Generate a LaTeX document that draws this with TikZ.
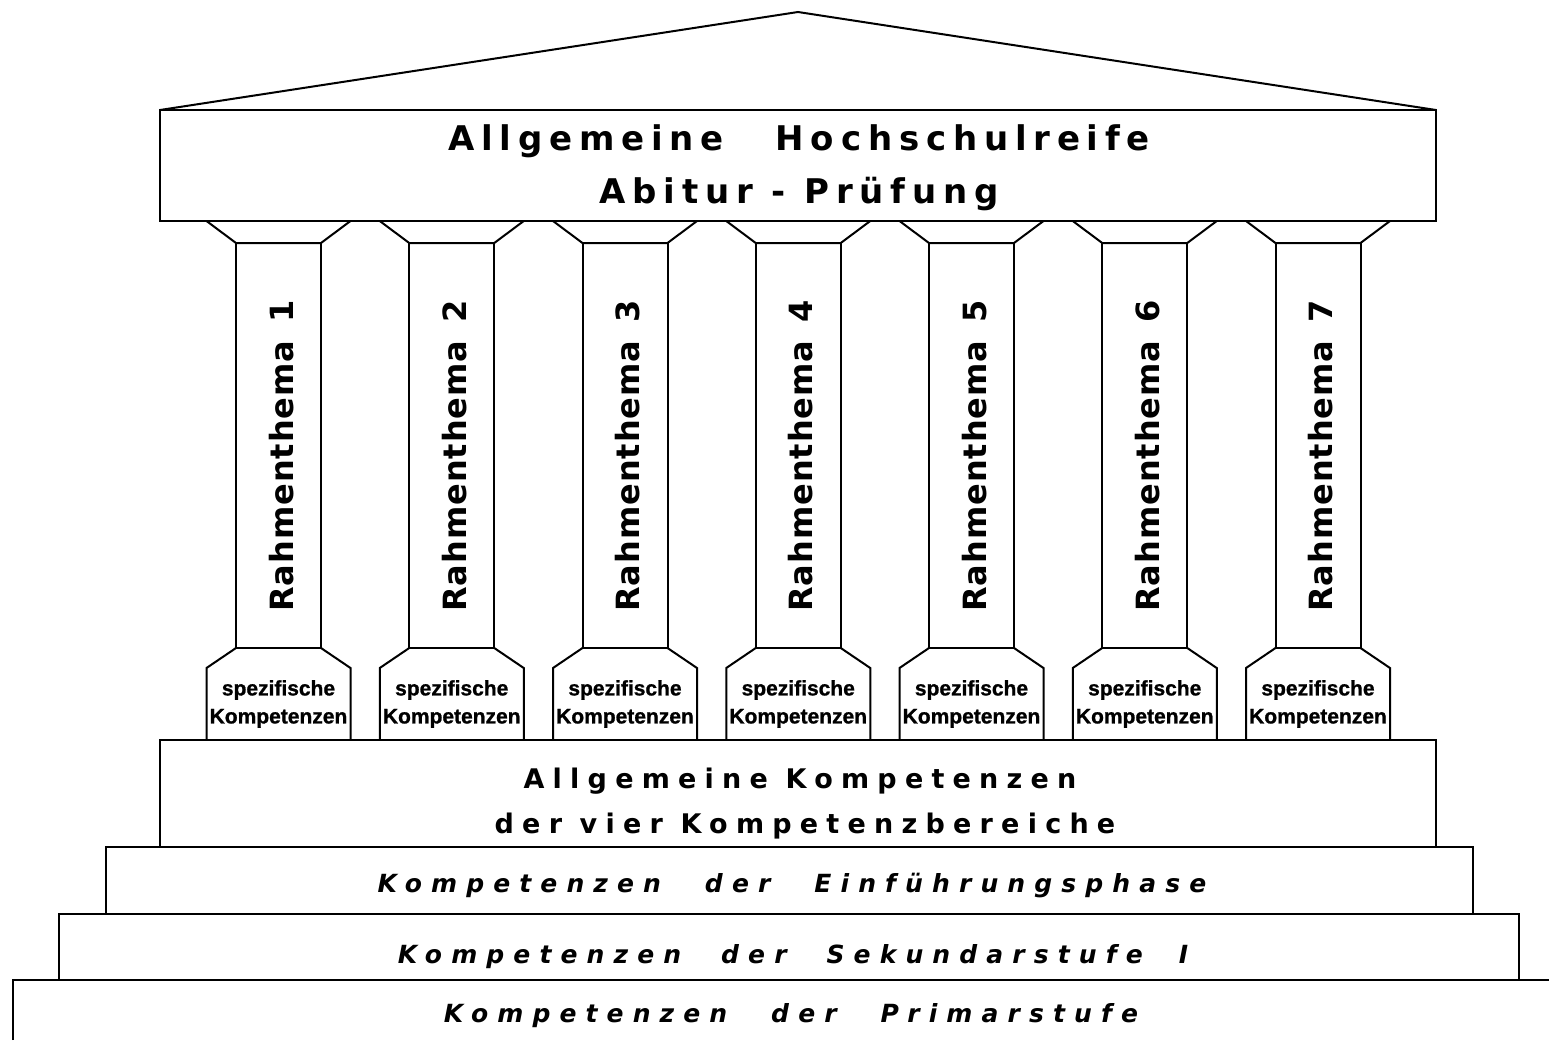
\documentclass[tikz,border=0pt]{standalone}
\usepackage{fontspec}
\setmainfont{Liberation Sans}
\newfontfamily\heavyfont{DejaVu Sans}
\begin{document}
\begin{tikzpicture}[x=0.5pt, y=-0.5pt, line width=1pt,
	title node/.style={anchor=base, font=\heavyfont\fontsize{17}{20}\selectfont\bfseries\addfontfeature{LetterSpace=20}},
	block node/.style={anchor=base, font=\heavyfont\fontsize{13.5}{16}\selectfont\bfseries\addfontfeature{LetterSpace=30.5}},
	step node/.style={anchor=base, font=\heavyfont\fontsize{12.5}{14}\selectfont\bfseries\itshape\addfontfeature{LetterSpace=36.5}},
	pillar node/.style={anchor=base, rotate=90, font=\heavyfont\fontsize{16}{18}\selectfont\bfseries\addfontfeature{LetterSpace=3}},
	foot node/.style={align=center, font=\fontsize{10.5}{14}\selectfont\bfseries\addfontfeature{FakeBold=1}}]
	\useasboundingbox (0,0) rectangle (1549,1040);

	% roof and entablature
	\draw (160,110) -- (798,12) -- (1436,110);
	\draw (160,110) rectangle (1436,221);
	\node[title node] (reife) at (799,150) {Allgemeine\hspace{26pt}Hochschulreife};
	\node[title node] (abitur) at (799,203) {Abitur - Prüfung};

	% the seven pillars
	\foreach \i in {1,...,7} {
		\pgfmathsetmacro{\cx}{278.5+173.25*(\i-1)}
		\draw (\cx-72,221) -- (\cx-42.5,243) -- (\cx+42.5,243) -- (\cx+72,221);
		\draw (\cx-42.5,243) rectangle (\cx+42.5,648);
		\draw (\cx-72,740) -- (\cx-72,668) -- (\cx-42.5,648)
			(\cx+42.5,648) -- (\cx+72,668) -- (\cx+72,740);
		\node[pillar node] (thema\i) at (\cx+14.5,456) {Rahmenthema\hspace{9pt}\i};
		\node[foot node] (komp\i) at (\cx,704) {spezifische\\Kompetenzen};
	}

	% steps
	\draw (160,740) rectangle (1436,847);
	\draw (106,847) rectangle (1473,914);
	\draw (59,914) rectangle (1519,980);
	\draw (13,1040) -- (13,980) -- (1549,980);
	\node[block node] (allg) at (800,788) {Allgemeine Kompetenzen};
	\node[block node] (vier) at (805,833) {der vier Kompetenzbereiche};
	\node[step node] (einf) at (792,892) {Kompetenzen\hspace{22pt}der\hspace{22pt}Einführungsphase};
	\node[step node] (sek) at (793,963) {Kompetenzen\hspace{20pt}der\hspace{20pt}Sekundarstufe\hspace{18pt}I};
	\node[step node] (prim) at (791,1022) {Kompetenzen\hspace{22pt}der\hspace{22pt}Primarstufe};
\end{tikzpicture}
\end{document}
